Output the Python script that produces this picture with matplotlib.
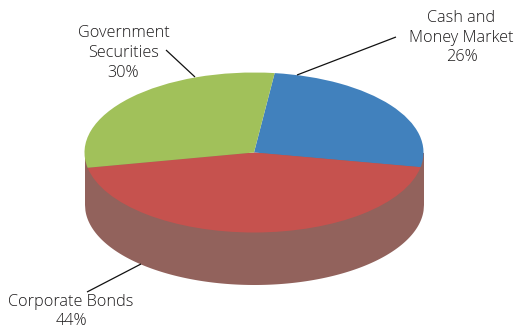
import matplotlib
matplotlib.use("Agg")
import matplotlib.pyplot as plt
import numpy as np

plt.rcParams["font.family"] = ["Open Sans", "DejaVu Sans"]

labels = ["Cash and\nMoney Market\n26%", "Corporate Bonds\n44%", "Government\nSecurities\n30%"]
shares = [26, 44, 30]
colors = ["#4181BD", "#C6524E", "#A1C15A"]
wall_color = "#92625C"
text_color = "#1C1A1B"

W, H = 518, 329
cx, cy = 254, 152.5   # pie centre in pixels
rx, ry = 169.5, 80    # half axes of the top ellipse
depth = 52 / ry


def px(x, y):
    # pixel position -> data units of the squashed pie
    return (x - cx) / rx, (cy - y) / ry


fig = plt.figure(figsize=(W / 100, H / 100), dpi=100)
ax = fig.add_axes([0, 0, 1, 1])

# side wall: from the centre line down to the lower half of the disc
xs = np.linspace(-1, 1, 801)
ax.fill_between(xs, -depth - np.sqrt(1 - xs ** 2), 0, color=wall_color, lw=0)

# top face
ax.pie(shares, colors=colors, startangle=83, counterclock=False, radius=1, frame=True)

ax.set_aspect("auto")
ax.set_xlim(px(0, 0)[0], px(W, 0)[0])
ax.set_ylim(px(0, H)[1], px(0, 0)[1])
ax.axis("off")

# leader lines
leaders = [((297, 75), (396, 37)), ((141, 264), (87, 292)), ((195, 77), (166, 50))]
for a, b in leaders:
    x0, y0 = px(*a)
    x1, y1 = px(*b)
    ax.plot([x0, x1], [y0, y1], color="#111111", lw=0.9, solid_capstyle="butt")

# slice labels
positions = [(461.5, 37.5), (71, 311.5), (123.5, 53)]
for txt, pos in zip(labels, positions):
    x, y = px(*pos)
    ax.text(x, y, txt, ha="center", va="center", fontsize=11.7, color=text_color,
            linespacing=1.33, fontweight="light")

fig.savefig("out.png", dpi=100)
